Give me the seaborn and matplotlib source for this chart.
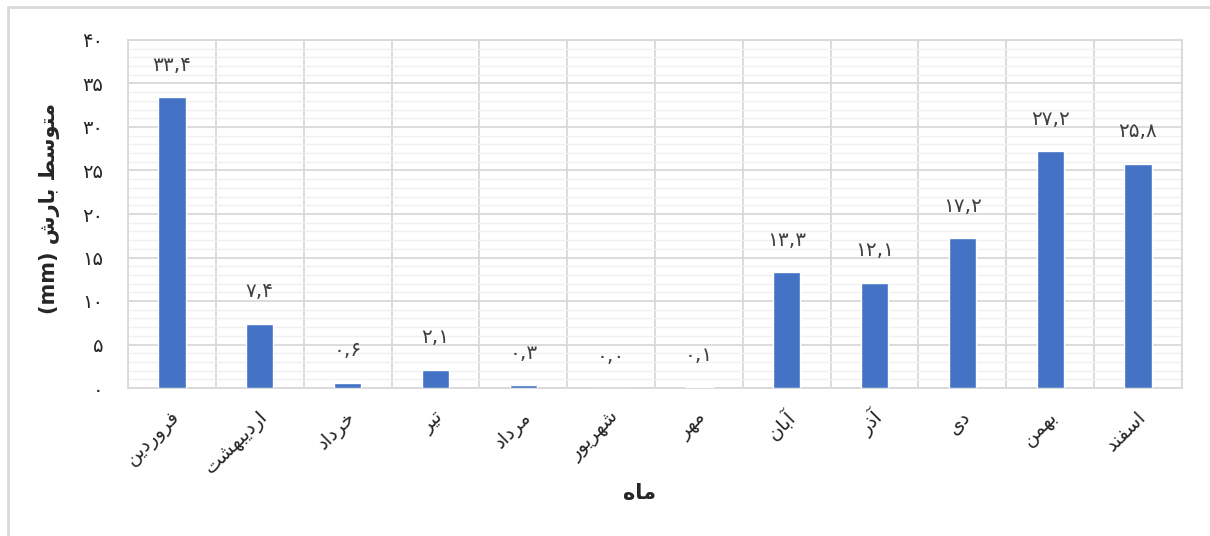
import numpy as np
import pandas as pd
import matplotlib
matplotlib.use("Agg")
import matplotlib.pyplot as plt
import matplotlib.transforms as mtransforms
from matplotlib.ticker import MultipleLocator, FixedLocator, FuncFormatter
from matplotlib.lines import Line2D
import seaborn as sns

# ---- data ----
months = ["فروردین", "اردیبهشت", "خرداد", "تیر", "مرداد", "شهریور",
          "مهر", "آبان", "آذر", "دی", "بهمن", "اسفند"]
rain = [33.4, 7.4, 0.6, 2.1, 0.3, 0.0, 0.1, 13.3, 12.1, 17.2, 27.2, 25.8]
y_ticks = [0, 5, 10, 15, 20, 25, 30, 35, 40]
x_title = "ماه"
y_title = "متوسط بارش"
y_unit = "(mm)"

# ---- minimal Persian shaping (matplotlib has no complex text layout) ----
FORMS = {  # isolated, final, initial, medial
    "\u0627": ("\uFE8D", "\uFE8E", None, None),
    "\u0622": ("\uFE81", "\uFE82", None, None),
    "\u0628": ("\uFE8F", "\uFE90", "\uFE91", "\uFE92"),
    "\u062A": ("\uFE95", "\uFE96", "\uFE97", "\uFE98"),
    "\u062E": ("\uFEA5", "\uFEA6", "\uFEA7", "\uFEA8"),
    "\u062F": ("\uFEA9", "\uFEAA", None, None),
    "\u0630": ("\uFEAB", "\uFEAC", None, None),
    "\u0631": ("\uFEAD", "\uFEAE", None, None),
    "\u0632": ("\uFEAF", "\uFEB0", None, None),
    "\u0633": ("\uFEB1", "\uFEB2", "\uFEB3", "\uFEB4"),
    "\u0634": ("\uFEB5", "\uFEB6", "\uFEB7", "\uFEB8"),
    "\u0637": ("\uFEC1", "\uFEC2", "\uFEC3", "\uFEC4"),
    "\u0641": ("\uFED1", "\uFED2", "\uFED3", "\uFED4"),
    "\u0645": ("\uFEE1", "\uFEE2", "\uFEE3", "\uFEE4"),
    "\u0646": ("\uFEE5", "\uFEE6", "\uFEE7", "\uFEE8"),
    "\u0647": ("\uFEE9", "\uFEEA", "\uFEEB", "\uFEEC"),
    "\u0648": ("\uFEED", "\uFEEE", None, None),
    "\u06CC": ("\uFBFC", "\uFBFD", "\uFBFE", "\uFBFF"),
}


def shape(text):
    out = []
    n = len(text)
    for i, ch in enumerate(text):
        if ch not in FORMS:
            out.append(ch)
            continue
        f = FORMS[ch]
        prev = text[i - 1] if i > 0 else None
        nxt = text[i + 1] if i < n - 1 else None
        join_prev = prev in FORMS and FORMS[prev][2] is not None
        join_next = f[2] is not None and nxt in FORMS
        if join_prev and join_next:
            out.append(f[3])
        elif join_prev:
            out.append(f[1])
        elif join_next:
            out.append(f[2])
        else:
            out.append(f[0])
    return "".join(out)[::-1]


FA_DIGITS = str.maketrans("0123456789.", "۰۱۲۳۴۵۶۷۸۹,")


def fa_num(v, fmt="{:.1f}"):
    return fmt.format(v).translate(FA_DIGITS)


# ---- plot ----
sns.set_style("white")
plt.rcParams["font.family"] = ["DejaVu Sans"]

W, H = 1210, 536
fig = plt.figure(figsize=(W / 100, H / 100), dpi=100)
ax = fig.add_axes([128 / W, 1 - 388 / H, (1182 - 128) / W, (388 - 40) / H])

df = pd.DataFrame({"month": months, "rain": rain})
sns.barplot(data=df, x="month", y="rain", color="#4472C4", saturation=1,
            width=0.31, ax=ax, zorder=3)

ax.set_xlim(-0.5, len(months) - 0.5)
ax.set_ylim(0, 40)
ax.yaxis.set_major_locator(FixedLocator(y_ticks))
ax.yaxis.set_minor_locator(MultipleLocator(1))
ax.xaxis.set_minor_locator(FixedLocator(np.arange(-0.5, len(months), 1)))
ax.yaxis.set_major_formatter(FuncFormatter(lambda v, p: fa_num(v, "{:.0f}")))

ax.grid(axis="y", which="minor", color="#f0f0f0", lw=1.0, zorder=0)
ax.grid(axis="y", which="major", color="#d9d9d9", lw=1.3, zorder=1)
ax.grid(axis="x", which="minor", color="#d9d9d9", lw=1.3, zorder=1)
ax.grid(axis="x", which="major", visible=False)
ax.set_axisbelow(True)
for s in ax.spines.values():
    s.set_color("#d9d9d9")
    s.set_linewidth(1.3)

ax.tick_params(axis="both", which="both", length=0)
ax.tick_params(axis="y", pad=18, labelsize=14, labelcolor="#262626")
ax.set_xticks(range(len(months)))
ax.set_xticklabels([shape(m) for m in months], rotation=45, ha="right",
                   va="center", rotation_mode="anchor", fontsize=14,
                   color="#262626")
ax.tick_params(axis="x", pad=19)
shift = mtransforms.ScaledTranslation(5 / 100, 0, fig.dpi_scale_trans)
for lbl in ax.get_xticklabels():
    lbl.set_transform(lbl.get_transform() + shift)

ax.set_xlabel("")
ax.set_ylabel("")
fig.text(640 / W, 1 - 493 / H, shape(x_title), ha="center", va="center",
         fontsize=15, fontweight="bold", color="#262626")
fig.text(50 / W, 1 - 208 / H, y_unit + " " + shape(y_title), ha="center",
         va="center", rotation=90, fontsize=15, fontweight="bold",
         color="#262626")

for i, v in enumerate(rain):
    ax.annotate(fa_num(v), (i, v), xytext=(0, 23), textcoords="offset points",
                ha="center", va="center", fontsize=14.5, color="#404040")

# outer chart border
fig.add_artist(Line2D([8 / W, 1], [1 - 7 / H, 1 - 7 / H], color="#d9d9d9",
                      lw=2, transform=fig.transFigure))
fig.add_artist(Line2D([8 / W, 8 / W], [0, 1 - 7 / H], color="#d9d9d9",
                      lw=2, transform=fig.transFigure))

fig.savefig("out.png", dpi=100, facecolor="white")
